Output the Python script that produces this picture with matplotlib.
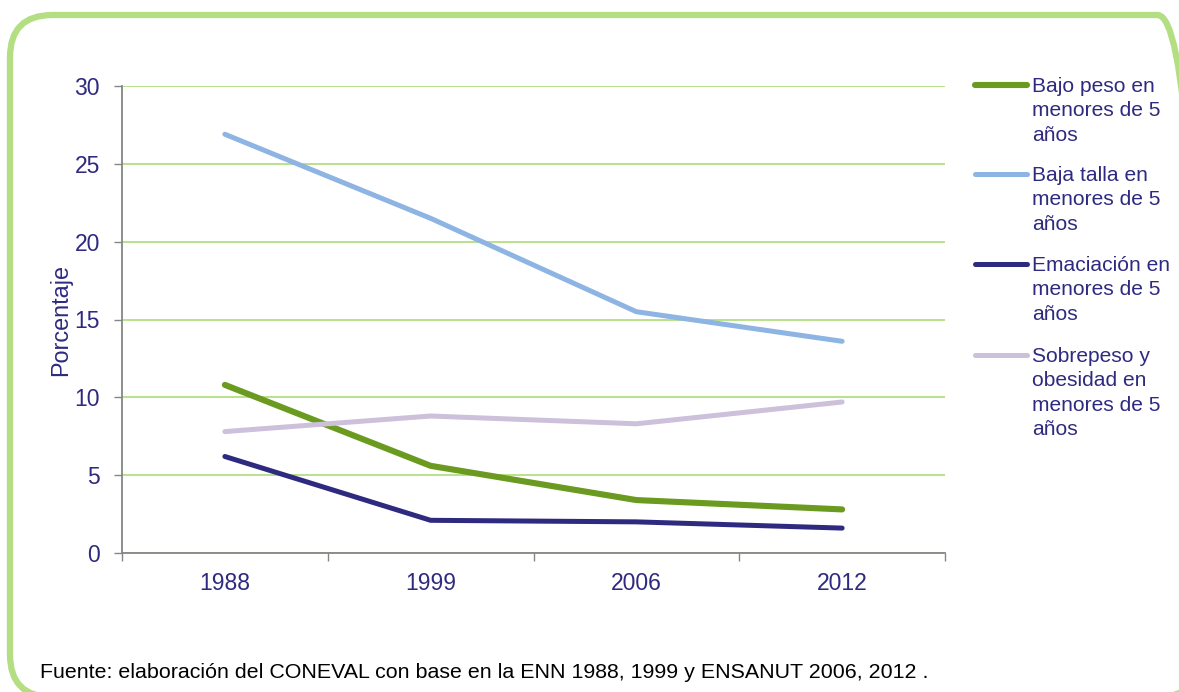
import matplotlib
matplotlib.use("Agg")
import matplotlib.pyplot as plt
from matplotlib.patches import FancyBboxPatch
from matplotlib.lines import Line2D

plt.rcParams['font.family'] = ['Liberation Sans', 'DejaVu Sans']

years = ["1988", "1999", "2006", "2012"]
bajo_peso = [10.8, 5.6, 3.4, 2.8]
baja_talla = [26.9, 21.5, 15.5, 13.6]
emaciacion = [6.2, 2.1, 2.0, 1.6]
sobrepeso = [7.8, 8.8, 8.3, 9.7]

labels = ["Bajo peso en\nmenores de 5\naños",
          "Baja talla en\nmenores de 5\naños",
          "Emaciación en\nmenores de 5\naños",
          "Sobrepeso y\nobesidad en\nmenores de 5\naños"]
colors = ["#6a9a1f", "#8db4e2", "#2e2a80", "#ccc0da"]
widths = [4.4, 3.6, 3.6, 3.6]
series = [bajo_peso, baja_talla, emaciacion, sobrepeso]

navy = "#2e2a80"
grid_green = "#b3de81"

W, H = 1179, 692
fig = plt.figure(figsize=(W / 100, H / 100), dpi=100)

# rounded green frame (runs off the right/bottom edge like the original)
frame = FancyBboxPatch((10 / W, 1 - 697 / H), 1190 / W, 682 / H,
                       boxstyle="round,pad=0,rounding_size=0.036",
                       transform=fig.transFigure, fill=False,
                       edgecolor=grid_green, linewidth=4.5, mutation_aspect=W / H)
fig.add_artist(frame)

ax = fig.add_axes([122 / W, 1 - 553 / H, 823 / W, 467 / H])
x = list(range(len(years)))
for vals, c, lw in zip(series, colors, widths):
    ax.plot(x, vals, color=c, linewidth=lw, solid_capstyle="round", solid_joinstyle="round")

ax.set_xlim(-0.5, 3.5)
ax.set_ylim(0, 30)
ax.set_yticks([0, 5, 10, 15, 20, 25, 30])
ax.yaxis.grid(True, color=grid_green, linewidth=1.3)
ax.set_axisbelow(True)

# tick marks at category boundaries, labels at centers
ax.set_xticks([-0.5, 0.5, 1.5, 2.5, 3.5])
ax.set_xticklabels([])
ax.set_xticks(x, minor=True)
ax.set_xticklabels(years, minor=True)
ax.tick_params(axis="x", which="major", length=6, color="#868686", width=1)
ax.tick_params(axis="x", which="minor", length=0, pad=14, labelsize=16.5, labelcolor=navy)
ax.tick_params(axis="y", length=6, color="#868686", width=1, labelsize=16.5, labelcolor=navy, pad=10)

for s in ["top", "right"]:
    ax.spines[s].set_visible(False)
for s in ["left", "bottom"]:
    ax.spines[s].set_color("#868686")
    ax.spines[s].set_linewidth(1.3)

ax.set_ylabel("Porcentaje", fontsize=16.8, color=navy)
ax.yaxis.set_label_coords(-0.06, 0.5)

# legend drawn by hand so the handle sits on the first text line
legend_y = [85, 174, 264, 355]
for lab, c, lw, py in zip(labels, colors, widths, legend_y):
    yf = 1 - py / H
    fig.add_artist(Line2D([975 / W, 1027 / W], [yf, yf], transform=fig.transFigure,
                          color=c, linewidth=lw, solid_capstyle="round"))
    fig.text(1032 / W, 1 - (py - 8) / H, lab, fontsize=15.1, color=navy,
             va="top", ha="left", linespacing=1.36)

fig.text(40 / W, 1 - 678 / H, "Fuente: elaboración del CONEVAL con base en la ENN 1988, 1999 y ENSANUT 2006, 2012 .",
         fontsize=15.4, color="black", va="baseline", ha="left")

fig.savefig("out.png", dpi=100)
